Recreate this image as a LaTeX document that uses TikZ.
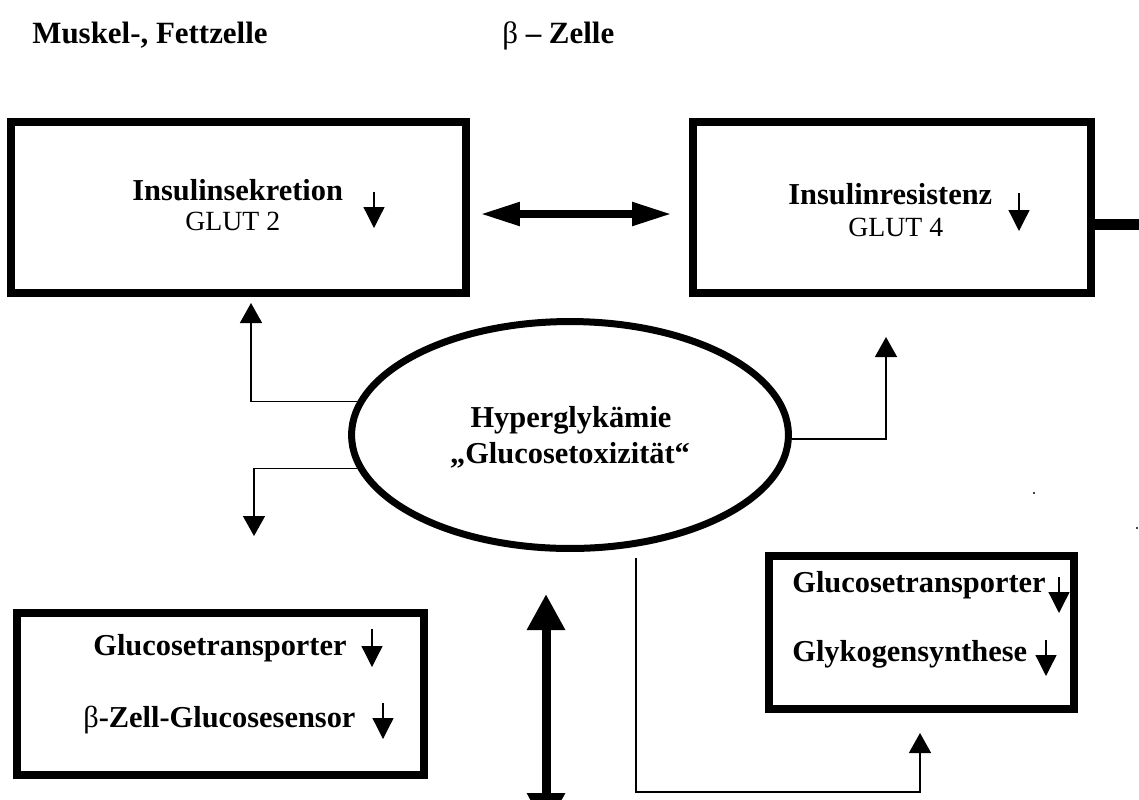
\documentclass[tikz,border=0pt]{standalone}
\usepackage{fontspec}
\setmainfont{Liberation Serif}
\usetikzlibrary{positioning, arrows.meta, shapes.geometric}
\tikzset{
	x=0.02cm,
	y=-0.02cm,
	box/.style={draw, line width=0.16cm, inner sep=0pt},
	titel/.style={font=\fontsize{17.6}{20}\selectfont\bfseries, inner sep=0pt},
	fett/.style={font=\fontsize{17.3}{20}\selectfont\bfseries, inner sep=0pt},
	duenn/.style={font=\fontsize{15.8}{18}\selectfont, inner sep=0pt},
	pfeil/.style={line width=0.03cm, -{Triangle[width=0.44cm, length=0.4cm]}},
	kpfeil/.style={line width=0.025cm, -{Triangle[width=0.42cm, length=0.42cm]}},
	dpfeil/.style={line width=0.16cm, {Triangle[width=0.44cm, length=0.8cm]}-{Triangle[width=0.44cm, length=0.8cm]}},
	spfeil/.style={line width=0.18cm, {Triangle[width=0.72cm, length=0.72cm]}-{Triangle[width=0.72cm, length=0.72cm]}},
}

\begin{document}
\begin{tikzpicture}
	\useasboundingbox (0,0) rectangle (1139,799);
	% Ueberschriften
	\node[titel, anchor=base west] (muskel) at (32,43) {Muskel-, Fettzelle};
	\node[titel, anchor=base west] (betazelle) at (502,43) {{\mdseries β} – Zelle};

	% obere Kaesten
	\node[box, minimum width=9.1cm, minimum height=3.42cm] (sekretion) at (238.5,207.5) {};
	\node[box, minimum width=7.96cm, minimum height=3.42cm] (resistenz) at (892,207.5) {};
	\node[fett, anchor=base west] (sekr) at (132,200) {Insulinsekretion};
	\node[duenn, anchor=base west] (glut2) at (185,230) {GLUT 2};
	\node[fett, anchor=base west] (resi) at (788,204) {Insulinresistenz};
	\node[duenn, anchor=base west] (glut4) at (848,236) {GLUT 4};
	\coordinate (p1) at (374,192);
	\coordinate (p2) at (1019,193);

	% Ellipse
	\node[ellipse, draw, line width=0.14cm, minimum width=8.74cm, minimum height=4.54cm, inner sep=0pt] (hyper) at (570,435) {};
	\node[fett, anchor=base] (hyp1) at (571,427) {Hyperglykämie};
	\node[fett, anchor=base] (hyp2) at (570,463) {„Glucosetoxizität“};

	% untere Kaesten
	\node[box, minimum width=8.14cm, minimum height=3.24cm] (sensor) at (220.5,694) {};
	\node[box, minimum width=6.1cm, minimum height=3.06cm] (glykogen) at (921.5,632.5) {};
	\node[fett, anchor=base west] (gt1) at (93,655) {Glucosetransporter};
	\node[fett, anchor=base west] (gsens) at (83,727) {{\mdseries β}-Zell-Glucosesensor};
	\node[fett, anchor=base west] (gt2) at (792,592) {Glucosetransporter};
	\node[fett, anchor=base west] (gsyn) at (792,661) {Glykogensynthese};
	\coordinate (p3) at (372,629);
	\coordinate (p4) at (383,703);
	\coordinate (p5) at (1059,577);
	\coordinate (p6) at (1046,640);

	% Hilfspunkte
	\coordinate (dl) at (480,214);
	\coordinate (dr) at (672,214);
	\coordinate (rand) at (1150,224);
	\coordinate (z1) at (251,303);
	\coordinate (z2) at (254,536);
	\coordinate (z3) at (886,337);
	\coordinate (start) at (636,558);
	\coordinate (ecke) at (920,792);
	\coordinate (z4) at (920,733);
	\coordinate (soben) at (546,594);
	\coordinate (sunten) at (546,829);

	\draw[dpfeil] (dl) -- (dr);
	\draw[line width=0.22cm] (resistenz.east |- 0,224) -- (rand);
	\draw[kpfeil] (p1) -- ++(0,36);
	\draw[kpfeil] (p2) -- ++(0,38);
	\draw[kpfeil] (p3) -- ++(0,38);
	\draw[kpfeil] (p4) -- ++(0,36);
	\draw[kpfeil] (p5) -- ++(0,36);
	\draw[kpfeil] (p6) -- ++(0,36);

	\draw[pfeil] (hyper.171.5) -| (z1);
	\draw[pfeil] (hyper.189) -| (z2);
	\draw[pfeil] (hyper.359.5) -| (z3);
	\draw[pfeil] (start) |- (ecke) -- (z4);
	\draw[spfeil] (soben) -- (sunten);

	\fill (1034,493) circle (1.2);
	\fill (1137,528) circle (1.2);
\end{tikzpicture}
\end{document}
